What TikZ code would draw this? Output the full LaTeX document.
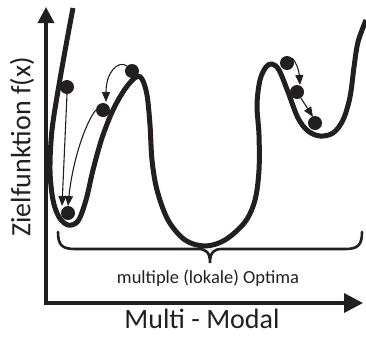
\documentclass[tikz,border=0pt]{standalone}
\usepackage{fontspec}
\setmainfont{Carlito}
\usetikzlibrary{arrows.meta}
\definecolor{ink}{HTML}{231F20}
\tikzset{
  curve/.style={line width=5pt, ink, line join=round},
  ball/.style={circle, fill=ink, inner sep=0pt, minimum size=14pt},
  move/.style={line width=1.1pt, ink, -{Triangle[length=10pt,width=8pt]}},
  axis/.style={line width=3.5pt, ink, {Triangle[length=16pt,width=16pt]}-{Triangle[length=19pt,width=19pt]}},
  brace/.style={line width=2.6pt, ink, line cap=round},
  lbl/.style={text=ink, inner sep=0pt}
}
\begin{document}
\begin{tikzpicture}[x=1pt,y=-1pt]
\useasboundingbox (0,0) rectangle (366,338);
% axes
\coordinate (ytop) at (46,7);
\coordinate (origin) at (46,303);
\coordinate (xend) at (363,303);
\draw[axis] (ytop) -- (origin) -- (xend);
% main curve
\draw[curve] plot[smooth, tension=0.55] coordinates {
(73,8) (67,40) (59,85) (52,130) (50,170) (53,200) (59,217) (68,225) (78,221) (86,200) (93,170) (102,138) (113,110) (125,89) (136,77) (142,79) (147,95) (150,125) (152,160) (157,190) (168,220) (185,240) (205,246) (225,240) (245,222) (255,200) (259,170) (259,135) (257,105) (260,80) (266,67) (272,64) (279,70) (288,92) (298,118) (308,131) (320,136) (333,133) (343,120) (350,97) (354,67) (358,42) (366,20)};
% balls
\node[ball] (b1) at (67,87) {};
\node[ball] (b2) at (103,110) {};
\node[ball] (b3) at (132,71) {};
\node[ball] (b4) at (68,213) {};
\node[ball] (b5) at (287,63) {};
\node[ball] (b6) at (297,92) {};
\node[ball] (b7) at (315,123) {};
% moves
\draw[move] (b1.south) -- (62,206);
\draw[move] (b2.west) .. controls (84,125) and (72,165) .. (68,206);
\draw[move] (b3.north west) .. controls (118,60) and (106,72) .. (106,102);
\draw[move] (b5.north east) .. controls (296,62) and (299,70) .. (300,85);
\draw[move] (b6) -- (313,117);
% brace
\draw[brace] (58,232) .. controls (58,245) and (62,249) .. (75,249) -- (198,249)
  .. controls (206,249) and (210,252) .. (210,263)
  .. controls (210,252) and (214,249) .. (222,249) -- (345,249)
  .. controls (358,249) and (362,245) .. (362,232);
% labels
\node[lbl, rotate=90, font=\fontsize{28}{30}\selectfont] (ylab) at (22,147) {Zielfunktion f(x)};
\node[lbl, font=\fontsize{28}{30}\selectfont] (xlab) at (202,319) {Multi - Modal};
\node[lbl, font=\fontsize{18.5}{20}\selectfont] (blab) at (208,278) {multiple (lokale) Optima};
\end{tikzpicture}
\end{document}
